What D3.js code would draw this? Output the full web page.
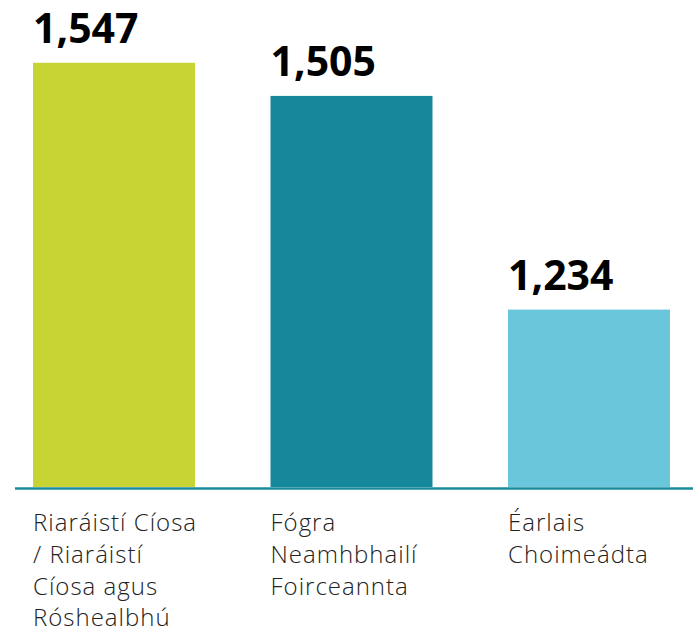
<!DOCTYPE html>
<html>
<head>
<meta charset="utf-8">
<script src="https://cdn.jsdelivr.net/npm/d3@7"></script>
<style>
  body { margin: 0; background: #fff; }
  svg { display: block; }
</style>
</head>
<body>
<div id="chart"></div>
<script>
let categories = [
  ['Riaráistí Cíosa', '/ Riaráistí', 'Cíosa agus', 'Róshealbhú'],
  ['Fógra', 'Neamhbhailí', 'Foirceannta'],
  ['Éarlais', 'Choimeádta']
]
let values = [1547, 1505, 1234]
let colors = ['#c7d433', '#15899b', '#6ac6da']

let width = 698
let height = 635
let baseline = 487

let svg = d3.select('#chart')
  .append('svg')
  .attr('width', width)
  .attr('height', height)

// bars are not drawn from zero in the original
let yScale = d3.scaleLinear()
  .domain([1009, 1600])
  .range([baseline, 21])

let xScale = d3.scaleBand()
  .domain(d3.range(values.length))
  .range([33, 670])
  .paddingInner(0.318)

let bars = svg.selectAll('.bar')
  .data(values)
  .enter()
  .append('g')
  .attr('class', 'bar')

bars.append('rect')
  .attr('x', (d, i) => xScale(i))
  .attr('y', d => yScale(d))
  .attr('width', xScale.bandwidth())
  .attr('height', d => baseline - yScale(d))
  .attr('fill', (d, i) => colors[i])

bars.append('text')
  .text(d => d3.format(',')(d))
  .attr('x', (d, i) => xScale(i))
  .attr('y', d => yScale(d) - 20)
  .attr('font-family', '"Noto Sans", "Open Sans", sans-serif')
  .attr('font-weight', 700)
  .attr('font-size', 41)
  .attr('fill', '#000')

// axis line
svg.append('line')
  .attr('x1', 15)
  .attr('x2', 693)
  .attr('y1', baseline + 1.5)
  .attr('y2', baseline + 1.5)
  .attr('stroke', '#1a8d9c')
  .attr('stroke-width', 2.5)

// category labels
svg.selectAll('.cat')
  .data(categories)
  .enter()
  .append('text')
  .attr('class', 'cat')
  .attr('font-family', '"Open Sans", "Noto Sans", sans-serif')
  .attr('font-weight', 300)
  .attr('font-size', 24)
  .attr('letter-spacing', 1)
  .attr('fill', '#222')
  .each(function(lines, i) {
    let t = d3.select(this)
    lines.forEach((line, j) => {
      t.append('tspan')
        .attr('x', xScale(i))
        .attr('y', 531 + j * 31.8)
        .text(line)
    })
  })
</script>
</body>
</html>
